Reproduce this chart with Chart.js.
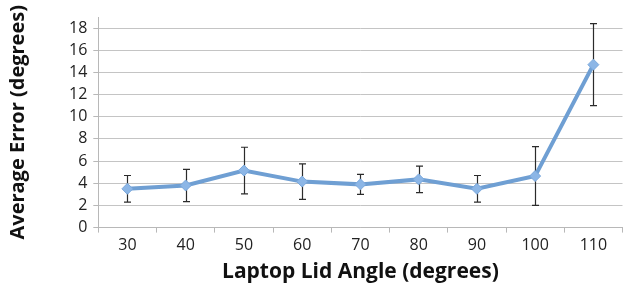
<!DOCTYPE html>
<html>
<head>
<meta charset="utf-8">
<script src="https://cdn.jsdelivr.net/npm/chart.js@4"></script>
<style>
  html, body { margin: 0; padding: 0; background: #fff; }
  #wrap { width: 629px; height: 285px; }
</style>
</head>
<body>
<div id="wrap"><canvas id="line-chart"></canvas></div>
<script>
// data
var angles = ["30", "40", "50", "60", "70", "80", "90", "100", "110"];
var avgError = [3.5, 3.8, 5.15, 4.15, 3.9, 4.35, 3.5, 4.65, 14.7];
var errSize = [1.2, 1.45, 2.1, 1.6, 0.9, 1.2, 1.2, 2.65, 3.7];
var yTicks = [0, 2, 4, 6, 8, 10, 12, 14, 16, 18];

// draws the +/- error bars through the chart scales
var errorBars = {
  id: "errorBars",
  beforeDatasetsDraw: function (chart) {
    var ctx = chart.ctx;
    var x = chart.scales.x, y = chart.scales.y;
    ctx.save();
    ctx.strokeStyle = "#2b2b2b";
    ctx.lineWidth = 1.2;
    for (var i = 0; i < avgError.length; i++) {
      var px = Math.round(x.getPixelForValue(i)) + 0.5;
      var top = y.getPixelForValue(avgError[i] + errSize[i]);
      var bot = y.getPixelForValue(avgError[i] - errSize[i]);
      ctx.beginPath();
      ctx.moveTo(px, top); ctx.lineTo(px, bot);
      ctx.moveTo(px - 3.5, top); ctx.lineTo(px + 3.5, top);
      ctx.moveTo(px - 3.5, bot); ctx.lineTo(px + 3.5, bot);
      ctx.stroke();
    }
    ctx.restore();
  }
};

new Chart(document.getElementById("line-chart"), {
  type: "line",
  data: {
    labels: angles,
    datasets: [{
      data: avgError,
      borderColor: "#6f9fd3",
      borderWidth: 4,
      tension: 0,
      pointStyle: "rectRot",
      pointRadius: 5.5,
      pointBackgroundColor: "#8cb6e6",
      pointBorderColor: "#7aa8dc",
      pointBorderWidth: 1,
      fill: false
    }]
  },
  options: {
    responsive: true,
    maintainAspectRatio: false,
    animation: false,
    layout: { padding: { top: 17, right: 1, left: 6, bottom: 0 } },
    plugins: {
      legend: { display: false },
      tooltip: { enabled: false }
    },
    scales: {
      x: {
        offset: true,
        grid: {
          offset: true,
          drawOnChartArea: false,
          drawTicks: true,
          tickLength: 5,
          color: "#b8b8b8"
        },
        border: { color: "#b8b8b8", width: 1 },
        ticks: {
          color: "#222",
          font: { family: "Open Sans", size: 16 },
          padding: 3
        },
        title: {
          display: true,
          text: "Laptop Lid Angle (degrees)",
          color: "#111",
          font: { family: "Open Sans", size: 21, weight: "bold" },
          padding: { top: 2, bottom: 0 }
        }
      },
      y: {
        min: 0,
        max: 19,
        afterBuildTicks: function (scale) {
          scale.ticks = yTicks.map(function (v) { return { value: v }; });
        },
        grid: {
          color: "#c4c4c4",
          tickLength: 5,
          tickColor: "#b8b8b8"
        },
        border: { color: "#b8b8b8", width: 1 },
        ticks: {
          color: "#222",
          font: { family: "Open Sans", size: 16 },
          padding: 6
        },
        title: {
          display: true,
          text: "Average Error (degrees)",
          color: "#111",
          font: { family: "Open Sans", size: 20, weight: "bold" },
          padding: { top: 0, bottom: 33 }
        }
      }
    }
  },
  plugins: [errorBars]
});
</script>
</body>
</html>
